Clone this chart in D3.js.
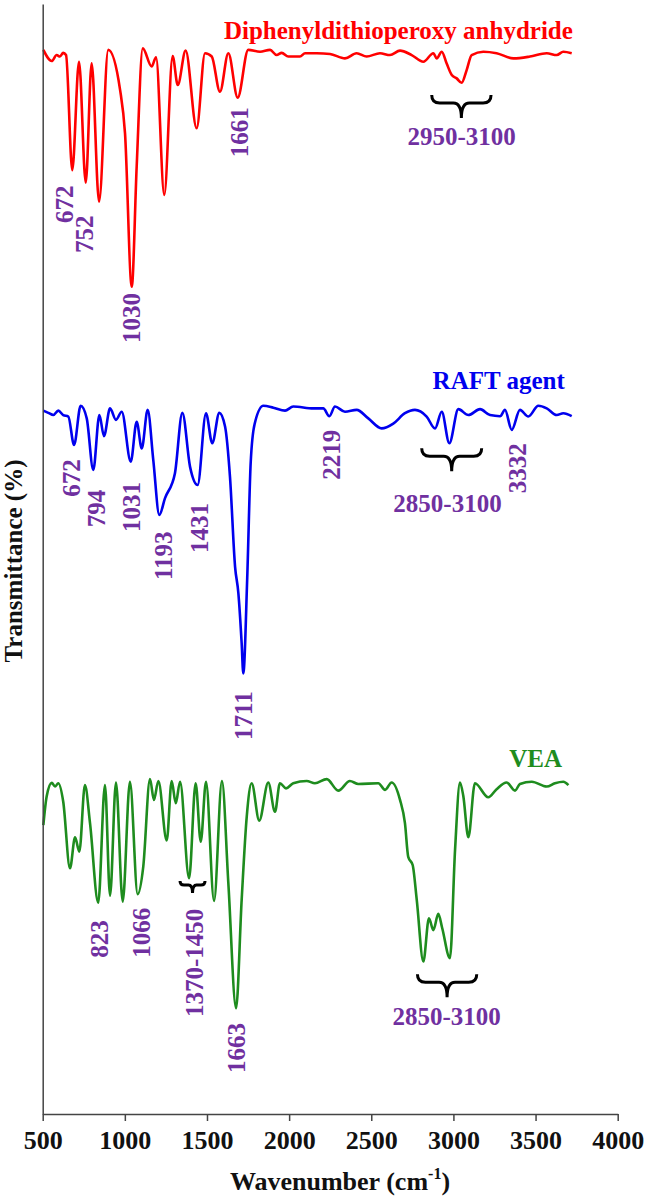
<!DOCTYPE html>
<html>
<head>
<meta charset="utf-8">
<script src="https://cdn.jsdelivr.net/npm/d3@7"></script>
<style>
	body { margin: 0; background: #fff; }
	text { font-family: "Liberation Serif", "Times New Roman", serif; font-weight: bold; }
</style>
</head>
<body>
<svg id="chart" width="650" height="1201"></svg>
<script>
// spectra as [wavenumber, transmittance]
var redSpectrum = [[504,87.6],[555,84.6],[585,86.2],[605,85.8],[625,86.8],[642,86.2],[680,55.1],[721,84.4],[762,51.7],[798,84.0],[843,46.6],[899,87.6],[971,76.8],[1001,65.1],[1042,23.6],[1072,56.0],[1109,88.0],[1163,83.1],[1190,85.6],[1240,48.4],[1291,85.9],[1322,78.1],[1370,87.4],[1437,66.4],[1488,86.7],[1529,85.8],[1579,76.3],[1630,86.7],[1687,74.7],[1751,87.6],[1823,87.1],[1884,87.6],[1924,86.2],[1955,86.8],[1995,85.8],[2066,85.8],[2097,86.7],[2168,86.7],[2249,86.5],[2340,85.3],[2411,86.7],[2472,85.8],[2553,86.7],[2614,86.2],[2675,87.4],[2746,86.2],[2817,84.4],[2878,86.7],[2898,85.3],[2929,87.1],[2959,83.9],[2990,80.8],[3020,79.9],[3050,78.7],[3081,82.2],[3111,86.2],[3182,87.1],[3263,86.7],[3365,85.3],[3466,85.8],[3568,86.7],[3629,86.2],[3669,87.1],[3720,86.7]];

var blueSpectrum = [[504,90.1],[534,89.5],[565,88.9],[595,90.1],[625,88.9],[656,88.5],[691,80.8],[731,91.4],[768,88.0],[808,74.1],[845,88.9],[873,83.2],[910,90.7],[946,87.6],[981,89.8],[1036,76.3],[1072,87.1],[1103,79.9],[1139,90.3],[1173,76.8],[1210,61.9],[1244,66.4],[1305,73.2],[1350,89.5],[1397,74.9],[1443,70.0],[1494,89.4],[1532,81.3],[1575,89.5],[1610,85.8],[1640,72.2],[1671,47.9],[1691,40.8],[1711,27.3],[1721,19.1],[1745,45],[1766,76],[1790,86.5],[1843,91.4],[1904,90.9],[1975,90.1],[2025,91.2],[2147,90.7],[2208,90.7],[2245,88.6],[2279,91.2],[2340,89.8],[2411,90.3],[2482,88.0],[2563,85.3],[2634,86.6],[2705,89.4],[2766,90.3],[2837,88.5],[2888,85.3],[2929,89.8],[2975,81.3],[3030,90.5],[3091,88.9],[3162,90.5],[3223,88.9],[3284,88.6],[3314,90.3],[3355,84.9],[3405,90.3],[3456,88.5],[3517,91.4],[3568,90.7],[3629,88.9],[3669,89.4],[3720,88.6]];

var greenSpectrum = [[504,78.1],[524,85.8],[555,89.5],[575,88.5],[595,89.4],[625,84.4],[666,66.4],[697,74.8],[723,70.9],[757,88.9],[788,78.6],[838,57.1],[879,88.9],[910,59.0],[946,89.6],[987,57.4],[1031,89.8],[1078,59.4],[1112,66.8],[1153,90.5],[1177,84.9],[1204,90.0],[1255,73.9],[1285,90.0],[1310,84.0],[1336,89.8],[1391,63.7],[1431,89.4],[1462,73.6],[1494,89.8],[1543,57.6],[1591,90.0],[1630,62.4],[1677,28.6],[1711,57.8],[1742,80.4],[1772,89.4],[1818,79.3],[1873,89.6],[1914,81.7],[1944,89.4],[1981,88.0],[2025,89.4],[2107,90.0],[2157,89.4],[2229,90.5],[2299,87.4],[2370,90.0],[2421,89.2],[2543,89.4],[2584,87.6],[2624,89.6],[2675,84.9],[2705,78.6],[2725,69.5],[2752,67.3],[2777,57.8],[2817,41.2],[2851,52.9],[2878,49.7],[2908,54.1],[2932,50.2],[2979,42.1],[3010,71.4],[3040,89.6],[3060,86.0],[3091,74.8],[3131,89.4],[3212,85.6],[3263,87.8],[3324,89.6],[3375,87.4],[3405,89.2],[3477,89.8],[3568,88.5],[3618,89.4],[3669,89.8],[3700,88.9]];

var seriesNames = ["Diphenyldithioperoxy anhydride", "RAFT agent", "VEA"];
var seriesOffsets = [200, 100, 0];
var seriesColors = ["#ff0000", "#0000ee", "#1e8c1e"];
// where each name ends: [wavenumber, transmittance]
var nameAnchors = [[3727, 90.5], [3678, 95.9], [3661, 93.9]];

// peak labels: [series, text, wavenumber, transmittance] (rotated)
var peakLabels = [
	[0,"672",684,40.8],[0,"752",806,32.7],[0,"1030",1092,8.4],[0,"1661",1750,58.6],
	[1,"672",727,66.8],[1,"794",879,58.6],[1,"1031",1092,57.3],[1,"1193",1287,44.3],
	[1,"1431",1506,51.6],[1,"1711",1774,1.1],[1,"2219",2310,71.4],[1,"3332",3442,67.8],
	[2,"823",897,42.2],[2,"1066",1153,42.2],[2,"1370-1450",1476,26.2],[2,"1663",1731,11.1]
];
// range labels under braces: [series, text, wavenumber, transmittance]
var rangeLabels = [[0,"2950-3100",3050,61.9],[1,"2850-3100",2964,62.8],[2,"2850-3100",2959,24.1]];
// braces: [series, from, to, transmittance at the ends, small?]
var braces = [[0,2868,3229,75.4,false],[1,2807,3172,79.9,false],[2,2781,3142,37.8,false],[2,1336,1488,63.0,true]];

var xTicks = [500,1000,1500,2000,2500,3000,3500,4000];
var labelColor = "#7030a0";

var svg = d3.select("#chart");
var x = d3.scaleLinear().domain([500, 4000]).range([42.7, 617.7]);
var y = d3.scaleLinear().domain([0, 300]).range([1114, 4]);

function py(s, t) { return y(t + seriesOffsets[s]); }

var line = d3.line()
	.x(function(d) { return x(d[0]); })
	.y(function(d) { return y(d[1]); })
	.curve(d3.curveMonotoneX);

[redSpectrum, blueSpectrum, greenSpectrum].forEach(function(data, i) {
	svg.append("path")
	  .datum(data.map(function(d) { return [d[0], d[1] + seriesOffsets[i]]; }))
	  .attr("d", line)
	  .attr("fill", "none")
	  .attr("stroke", seriesColors[i])
	  .attr("stroke-width", 2.6)
	  .attr("stroke-linejoin", "round");
});

// axes
var xAxis = svg.append("g")
	.attr("transform", "translate(0," + y(0) + ")")
	.call(d3.axisBottom(x).tickValues(xTicks).tickFormat(d3.format("d")).tickSize(7).tickSizeOuter(0).tickPadding(10));
xAxis.selectAll("path, line").attr("stroke", "#444").attr("stroke-width", 1.5);
xAxis.selectAll("text").attr("font-size", 26).attr("fill", "#111")
	.attr("font-family", "'Liberation Serif', serif").attr("font-weight", "bold");

var yAxis = svg.append("g")
	.attr("transform", "translate(" + x(500) + ",0)")
	.call(d3.axisLeft(y).tickValues([]).tickSizeOuter(0));
yAxis.selectAll("path").attr("stroke", "#444").attr("stroke-width", 1.5);

var xt = svg.append("text")
	.attr("x", 340).attr("y", 1190)
	.attr("text-anchor", "middle")
	.attr("font-size", 26).attr("fill", "#111");
xt.append("tspan").text("Wavenumber (cm");
xt.append("tspan").attr("font-size", 16).attr("dy", -11).text("-1");
xt.append("tspan").attr("dy", 11).text(")");

svg.append("text")
	.attr("transform", "translate(22," + (y(150) + 2) + ") rotate(-90)")
	.attr("text-anchor", "middle")
	.attr("font-size", 25).attr("fill", "#111")
	.text("Transmittance (%)");

// series names
seriesNames.forEach(function(n, i) {
	svg.append("text")
	  .attr("x", x(nameAnchors[i][0]))
	  .attr("y", py(i, nameAnchors[i][1]))
	  .attr("text-anchor", "end")
	  .attr("font-size", 25)
	  .attr("fill", seriesColors[i])
	  .text(n);
});

svg.selectAll(".peak")
	.data(peakLabels)
	.enter().append("text")
	.attr("class", "peak")
	.attr("transform", function(d) { return "translate(" + x(d[2]) + "," + py(d[0], d[3]) + ") rotate(-90)"; })
	.attr("font-size", 25)
	.attr("fill", labelColor)
	.text(function(d) { return d[1]; });

svg.selectAll(".range")
	.data(rangeLabels)
	.enter().append("text")
	.attr("class", "range")
	.attr("x", function(d) { return x(d[2]); })
	.attr("y", function(d) { return py(d[0], d[3]); })
	.attr("text-anchor", "middle")
	.attr("font-size", 25)
	.attr("fill", labelColor)
	.text(function(d) { return d[1]; });

function bracePath(d) {
	var x0 = x(d[1]), x1 = x(d[2]), y0 = py(d[0], d[3]);
	var dp = d[4] ? 4 : 8, tip = d[4] ? 8 : 15, r = d[4] ? 4 : 8;
	var xm = (x0 + x1) / 2, yh = y0 + dp;
	return "M" + x0 + "," + y0 + " Q" + x0 + "," + yh + " " + (x0 + r) + "," + yh +
		" L" + (xm - r) + "," + yh + " Q" + xm + "," + yh + " " + xm + "," + (yh + tip) +
		" M" + xm + "," + (yh + tip) + " Q" + xm + "," + yh + " " + (xm + r) + "," + yh +
		" L" + (x1 - r) + "," + yh + " Q" + x1 + "," + yh + " " + x1 + "," + y0;
}

svg.selectAll(".brace")
	.data(braces)
	.enter().append("path")
	.attr("class", "brace")
	.attr("d", bracePath)
	.attr("fill", "none")
	.attr("stroke", "#000")
	.attr("stroke-width", 3);
</script>
</body>
</html>
